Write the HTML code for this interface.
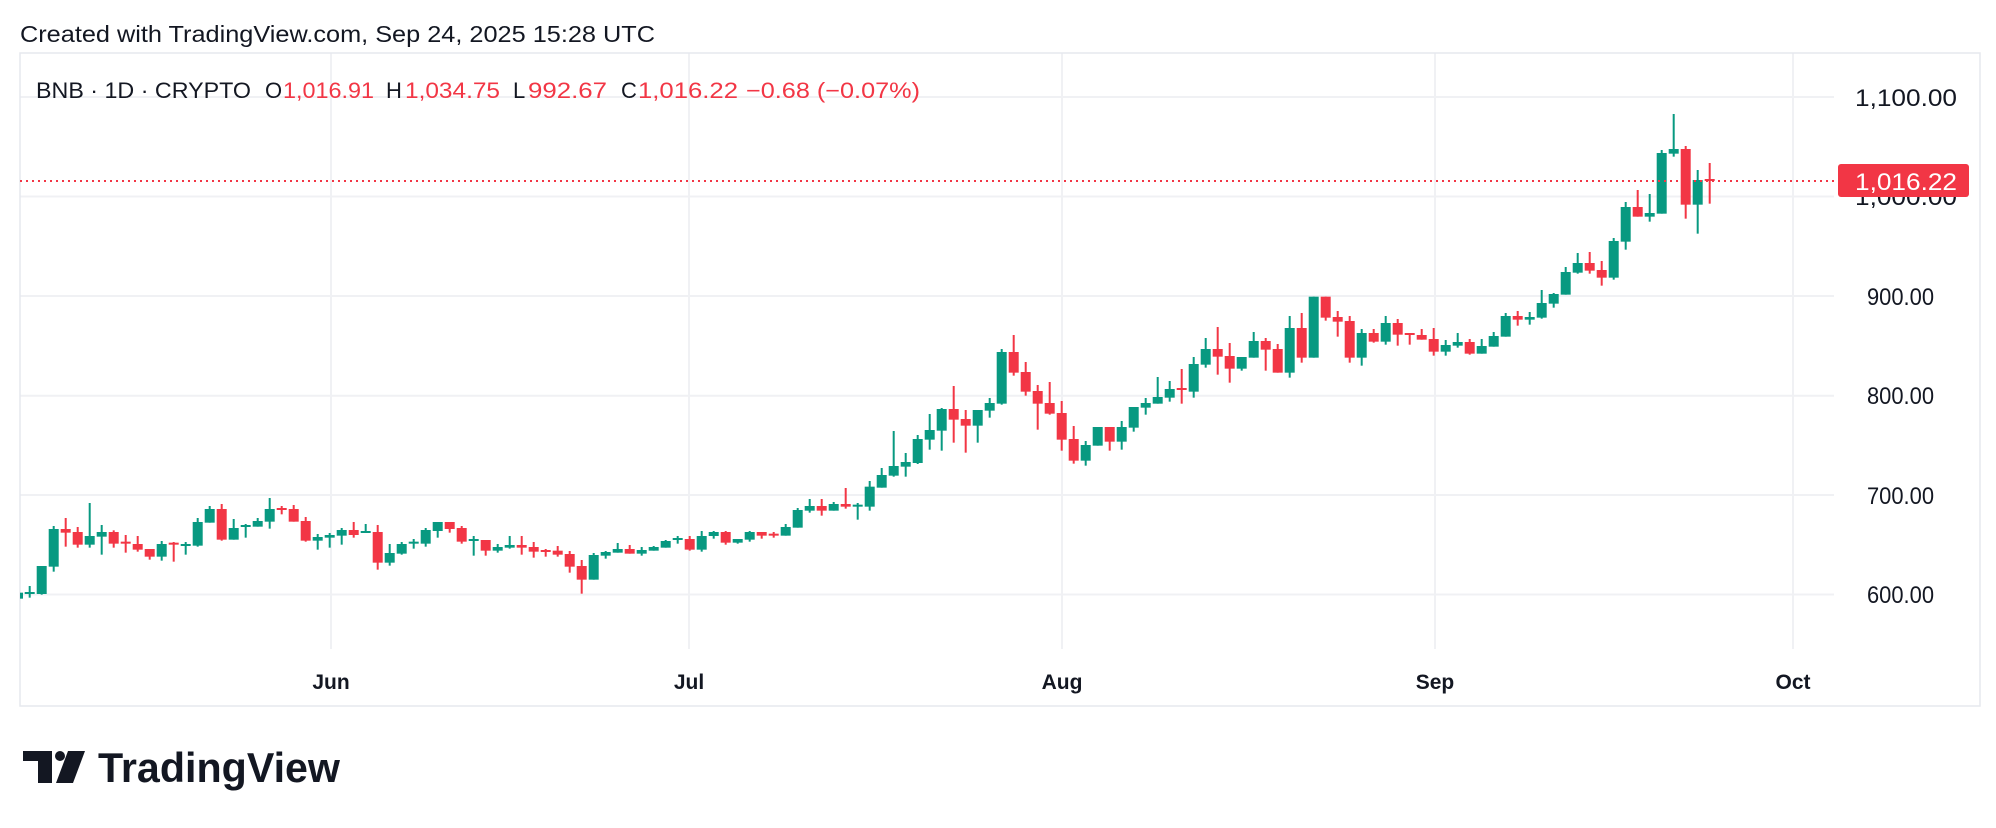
<!DOCTYPE html>
<html><head><meta charset="utf-8">
<style>
html,body{margin:0;padding:0;background:#fff;}
svg{display:block;font-family:"Liberation Sans",sans-serif;}
</style></head>
<body>
<svg id="s" width="1996" height="828" viewBox="0 0 1996 828" xmlns="http://www.w3.org/2000/svg">
<rect width="1996" height="828" fill="#fff"/>
<text x="20" y="42" font-size="23" fill="#131722" textLength="635" lengthAdjust="spacingAndGlyphs">Created with TradingView.com, Sep 24, 2025 15:28 UTC</text>
<g stroke="#f0f1f4" stroke-width="2" fill="none">
<line x1="20" y1="97" x2="1834" y2="97"/>
<line x1="20" y1="196.5" x2="1834" y2="196.5"/>
<line x1="20" y1="296" x2="1834" y2="296"/>
<line x1="20" y1="395.7" x2="1834" y2="395.7"/>
<line x1="20" y1="495" x2="1834" y2="495"/>
<line x1="20" y1="594.5" x2="1834" y2="594.5"/>
<line x1="331" y1="53" x2="331" y2="649"/>
<line x1="689" y1="53" x2="689" y2="649"/>
<line x1="1062" y1="53" x2="1062" y2="649"/>
<line x1="1435" y1="53" x2="1435" y2="649"/>
<line x1="1793" y1="53" x2="1793" y2="649"/>
</g>
<rect x="20" y="53" width="1960" height="653" fill="none" stroke="#e6e8ee" stroke-width="1.5"/>
<g id="candles"></g>
<line x1="20" y1="181" x2="1836" y2="181" stroke="#f23645" stroke-width="2" stroke-dasharray="2,4"/>
<g font-size="22" fill="#131722">
<text x="36" y="98" textLength="215" lengthAdjust="spacingAndGlyphs">BNB · 1D · CRYPTO</text>
<text x="265" y="98">O</text><text x="283" y="98" fill="#f23645" textLength="91" lengthAdjust="spacingAndGlyphs">1,016.91</text>
<text x="386" y="98">H</text><text x="405" y="98" fill="#f23645" textLength="95" lengthAdjust="spacingAndGlyphs">1,034.75</text>
<text x="513" y="98">L</text><text x="528" y="98" fill="#f23645" textLength="79" lengthAdjust="spacingAndGlyphs">992.67</text>
<text x="621" y="98">C</text><text x="638" y="98" fill="#f23645" textLength="100" lengthAdjust="spacingAndGlyphs">1,016.22</text>
<text x="746" y="98" fill="#f23645" textLength="174" lengthAdjust="spacingAndGlyphs">−0.68 (−0.07%)</text>
</g>
<g font-size="24" fill="#131722" lengthAdjust="spacingAndGlyphs">
<text x="1855" y="106" textLength="102" lengthAdjust="spacingAndGlyphs">1,100.00</text>
<text x="1855" y="205" textLength="102" lengthAdjust="spacingAndGlyphs">1,000.00</text>
<text x="1867" y="305" textLength="67" lengthAdjust="spacingAndGlyphs">900.00</text>
<text x="1867" y="404" textLength="67" lengthAdjust="spacingAndGlyphs">800.00</text>
<text x="1867" y="504" textLength="67" lengthAdjust="spacingAndGlyphs">700.00</text>
<text x="1867" y="603" textLength="67" lengthAdjust="spacingAndGlyphs">600.00</text>
</g>
<rect x="1838" y="164" width="131" height="33" rx="3" fill="#f23645"/>
<text x="1855" y="190" font-size="24" fill="#fff" textLength="102" lengthAdjust="spacingAndGlyphs">1,016.22</text>
<g font-size="21" font-weight="bold" fill="#131722" text-anchor="middle">
<text x="331" y="689">Jun</text><text x="689" y="689">Jul</text><text x="1062" y="689">Aug</text><text x="1435" y="689">Sep</text><text x="1793" y="689">Oct</text>
</g>
<g fill="#131722">
<path d="M23 751 H52 V783 H38 V761 H23 Z"/>
<circle cx="60" cy="756" r="5"/>
<path d="M68 751 H85 L73 783 H56 Z"/>
</g>
<text x="98" y="782" font-size="42" font-weight="bold" fill="#131722" textLength="242" lengthAdjust="spacingAndGlyphs">TradingView</text>
</svg>
<script>
var G='#089981',R='#f23645';
var z3=[[G,348,383,366,371],[G,288,374,288,372],[G,168,305,177,290],[R,144,230,177,188],[R,171,233,186,224],[G,99,233,198,224],[G,165,254,186,200],[R,181,233,186,221],[R,195,248,215,221],[R,198,245,222,239],[R,237,269,237,260],[G,213,272,222,260],[R,216,275,218,222],[G,216,254,222,227],[G,144,230,156,227],[G,108,158,117,158],[R,102,212,117,209],[G,147,209,174,209],[G,162,203,165,170],[G,144,170,153,170],[G,84,176,117,155],[R,108,133,114,119],[R,105,155,117,155],[R,141,215,153,212],[G,192,239,201,212],[G,189,233,195,203],[G,174,224,180,197],[R,156,203,180,195],[G,162,188,183,188],[R,165,299,186,278],[G,222,287,249,278],[G,216,254,222,251],[G,207,236,215,221],[G,174,230,180,221],[G,156,203,156,183],[R,156,188,156,177]];
var z4=[[R,168,221,174,215],[G,198,257,207,212],[R,210,257,210,242],[G,222,248,231,242],[G,198,236,225,233],[R,198,254,225,233],[R,216,263,231,245],[R,237,260,240,245],[R,228,260,242,254],[R,243,308,252,290],[R,270,371,288,329],[G,249,329,255,329],[G,243,266,246,257],[G,219,248,237,248],[R,225,251,237,251],[G,231,257,240,251],[G,228,242,231,242],[G,210,233,213,233],[G,198,221,204,210],[R,198,242,207,239],[G,183,245,198,239],[G,183,206,186,198],[R,183,224,186,218],[G,207,221,207,218],[G,183,215,186,209],[R,186,206,186,197],[R,186,203,191,197],[G,162,197,171,197],[G,114,173,120,173],[G,87,128,108,122],[R,87,137,108,122],[G,96,122,102,122],[R,54,116,102,110],[G,99,149,104,110]];
var z5=[[G,483,572,500,560],[G,444,503,465,503],[G,333,470,438,467],[G,399,470,426,440],[G,345,432,357,429],[G,282,389,330,359],[G,264,392,267,332],[R,198,368,267,299],[R,270,398,297,317],[G,270,368,270,317],[G,234,293,249,272],[G,87,254,96,251],[R,45,167,96,158],[R,126,227,156,215],[R,195,329,213,251],[R,186,284,249,281],[R,243,392,279,359],[R,318,431,357,422],[G,363,437,375,422],[G,321,377,321,377],[R,321,392,321,365],[G,303,389,321,365],[G,261,335,261,323],[G,234,284,249,263],[G,171,251,231,251],[G,183,245,207,233],[R,147,251,204,209],[G,111,233,132,215],[G,54,143,87,134],[R,21,164,87,110],[R,69,188,108,146],[G,111,152,111,146],[G,36,113,63,113],[R,54,152,63,89],[R,72,158,87,158]];
var z6=[[G,648,833,684,818],[R,639,788,684,773],[G,590,773,590,773],[R,590,662,590,653],[R,633,710,651,665],[R,648,788,663,773],[G,687,797,699,773],[R,687,728,699,725],[G,648,734,669,725],[R,657,737,669,704],[R,699,734,699,704],[R,687,719,705,719],[R,684,767,717,755],[G,720,767,735,755],[G,699,743,726,737],[R,717,764,726,761],[G,717,761,738,761],[G,696,740,708,740],[G,639,710,648,710],[R,633,677,648,659],[G,636,674,651,659],[G,570,656,609,653],[G,579,623,582,611],[G,501,584,516,584],[G,459,521,489,518],[R,456,521,489,512],[R,483,557,510,533],[G,414,539,423,533],[G,306,449,321,425],[R,270,350,321,350],[G,282,365,339,350],[G,150,341,159,341],[G,42,170,147,161],[R,138,356,147,314],[G,210,401,240,314],[R,189,311,237,242]];
var out='';
function add(c,x,off){
  var wt=off+c[1]/3,wb=off+c[2]/3,bt=off+c[3]/3,bb=off+c[4]/3;
  if(bb-bt<2){bb=bt+2;}
  out+='<rect x="'+(x-1)+'" y="'+wt+'" width="2" height="'+(wb-wt)+'" fill="'+c[0]+'"/>';
  out+='<rect x="'+(x-5)+'" y="'+bt+'" width="10" height="'+(bb-bt)+'" fill="'+c[0]+'"/>';
}
out+='<rect x="20" y="'+(470+368/3)+'" width="3" height="6" fill="'+G+'"/>';
var k=0;
z3.forEach(function(c){add(c,29.7+12*k,470);k++;});
z4.forEach(function(c){add(c,29.7+12*k,470);k++;});
z5.forEach(function(c){add(c,29.7+12*k,320);k++;});
z6.forEach(function(c){add(c,29.7+12*k,100);k++;});
document.getElementById('candles').innerHTML=out;
</script>
</body></html>
